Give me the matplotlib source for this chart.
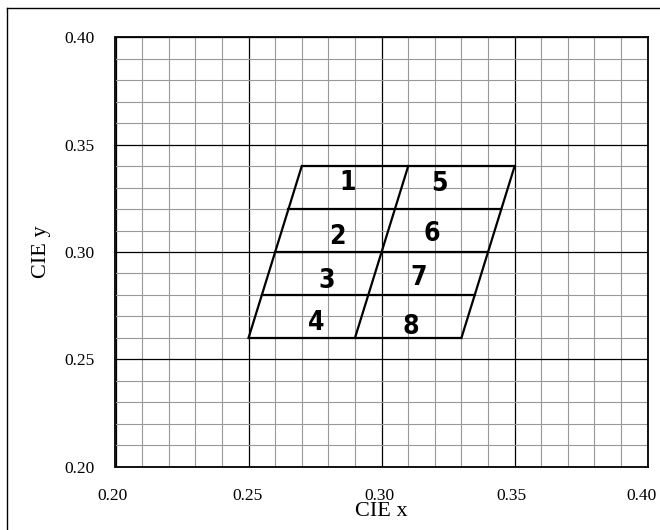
import numpy as np
import matplotlib.pyplot as plt
from matplotlib.lines import Line2D
from matplotlib.transforms import ScaledTranslation

# bin boundaries (CIE x at bottom / top of each slanted line)
row_y = [0.26, 0.28, 0.30, 0.32, 0.34]
edge_bottom_x = [0.25, 0.29, 0.33]
edge_top_x = [0.27, 0.31, 0.35]

bin_names = ['1', '2', '3', '4', '5', '6', '7', '8']
label_x = [0.2872, 0.2835, 0.2792, 0.2756, 0.3217, 0.3188, 0.3141, 0.3111]
label_y = [0.3321, 0.3069, 0.2864, 0.2669, 0.3318, 0.3085, 0.2880, 0.2652]

ticks = [0.20, 0.25, 0.30, 0.35, 0.40]
tick_labels = ['0.20', '0.25', '0.30', '0.35', '0.40']

plt.rcParams['font.family'] = ['Liberation Serif', 'DejaVu Serif']

fig = plt.figure(figsize=(6.6, 5.3), dpi=100)
ax = fig.add_axes([115.5 / 660, (530 - 466.7) / 530, 532.2 / 660, 429.4 / 530])

ax.set_xlim(0.20, 0.40)
ax.set_ylim(0.20, 0.40)
ax.set_xticks(ticks)
ax.set_xticklabels(tick_labels)
ax.set_yticks(ticks)
ax.set_yticklabels(tick_labels)
ax.set_xticks(np.arange(0.20, 0.4001, 0.01), minor=True)
ax.set_yticks(np.arange(0.20, 0.4001, 0.01), minor=True)
ax.grid(which='minor', color='#999999', linewidth=0.8)
ax.grid(which='major', color='black', linewidth=0.9)
ax.tick_params(which='both', length=0, labelsize=12.5, pad=15)
ax.set_axisbelow(True)
for s in ax.spines.values():
    s.set_linewidth(1.3)

# x tick labels sit a little left of their grid lines, the last one most
shifts = [-3, -1, -2, -3, -6]
for lab, dx in zip(ax.get_xticklabels(), shifts):
    lab.set_transform(lab.get_transform() + ScaledTranslation(dx / 100, 0, fig.dpi_scale_trans))

# horizontal bin rows
for y in row_y:
    t = (y - row_y[0]) / (row_y[-1] - row_y[0])
    x0 = edge_bottom_x[0] + t * (edge_top_x[0] - edge_bottom_x[0])
    x1 = edge_bottom_x[-1] + t * (edge_top_x[-1] - edge_bottom_x[-1])
    ax.plot([x0, x1], [y, y], color='black', linewidth=1.6)
# slanted edges
for xb, xt in zip(edge_bottom_x, edge_top_x):
    ax.plot([xb, xt], [row_y[0], row_y[-1]], color='black', linewidth=1.6)

for name, x, y in zip(bin_names, label_x, label_y):
    ax.text(x, y, name, ha='center', va='center', fontsize=19, fontweight='bold',
            fontstretch='condensed', family=['Liberation Sans Narrow', 'DejaVu Sans'])

ax.set_xlabel('CIE x', fontsize=16, labelpad=-1)
ax.set_ylabel('CIE y', fontsize=16, labelpad=10)

# figure frame (only left and top edges fall inside the picture)
fig.lines.append(Line2D([7 / 660, 7 / 660], [0, 522 / 530], transform=fig.transFigure,
                        color='black', linewidth=1.0))
fig.lines.append(Line2D([7 / 660, 1], [522 / 530, 522 / 530], transform=fig.transFigure,
                        color='black', linewidth=1.0))

fig.savefig('out.png', dpi=100)
